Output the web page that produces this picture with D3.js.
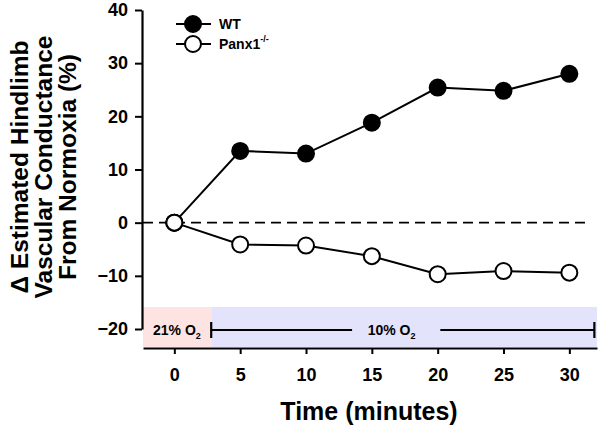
<!DOCTYPE html>
<html><head><meta charset="utf-8">
<script src="https://cdn.jsdelivr.net/npm/d3@7"></script>
<style>body{margin:0;background:#fff}svg{display:block}text{font-family:Arial,"Liberation Sans",sans-serif;font-weight:bold}</style>
</head><body><svg id="c" width="600" height="427"></svg>
<script>
const times = [0, 5, 10, 15, 20, 25, 30];
const wt = [0, 13.5, 13.0, 18.8, 25.4, 24.8, 28.0];
const panx = [0, -4.1, -4.3, -6.3, -9.7, -9.1, -9.4];
const xTicks = [0, 5, 10, 15, 20, 25, 30];
const yTicks = [-20, -10, 0, 10, 20, 30, 40];
const seriesNames = ["WT", "Panx1"];

const svg = d3.select("#c");
const x = d3.scaleLinear().domain([-2.38, 32.1]).range([143, 597]);
const y = d3.scaleLinear().domain([-20, 40]).range([329, 10]);

// bands
const bandTop = 307, bandBot = 347;
svg.append("rect").attr("x", x(-2.38)).attr("y", bandTop).attr("width", x(2.85) - x(-2.38)).attr("height", bandBot - bandTop).attr("fill", "#fde3e1");
svg.append("rect").attr("x", x(2.85)).attr("y", bandTop).attr("width", x(32.1) - x(2.85)).attr("height", bandBot - bandTop).attr("fill", "#e3e3fb");

// band labels
const by = 330;
const t1 = svg.append("text").attr("x", x(0.2)).attr("y", by + 5).attr("text-anchor", "middle").attr("font-size", 14);
t1.append("tspan").text("21% O");
t1.append("tspan").attr("font-size", 9).attr("dy", 4).text("2");
const t2 = svg.append("text").attr("x", x(16.5)).attr("y", by + 5).attr("text-anchor", "middle").attr("font-size", 14);
t2.append("tspan").text("10% O");
t2.append("tspan").attr("font-size", 9).attr("dy", 4).text("2");
const bl = svg.append("g").attr("stroke", "#000").attr("stroke-width", 2.2);
bl.append("line").attr("x1", x(2.8)).attr("x2", x(13.5)).attr("y1", by).attr("y2", by);
bl.append("line").attr("x1", x(20.2)).attr("x2", x(31.9)).attr("y1", by).attr("y2", by);
bl.append("line").attr("x1", x(2.8)).attr("x2", x(2.8)).attr("y1", by - 8).attr("y2", by + 8);
bl.append("line").attr("x1", x(31.9)).attr("x2", x(31.9)).attr("y1", by - 8).attr("y2", by + 8);

// y axis
const ya = svg.append("g").attr("transform", "translate(142,0)")
  .call(d3.axisLeft(y).tickValues(yTicks).tickSize(7).tickSizeOuter(0).tickPadding(7));
ya.select(".domain").attr("stroke-width", 2.2);
ya.selectAll(".tick line").attr("stroke-width", 2);
ya.selectAll("text").attr("font-size", 18).attr("fill", "#000");

// x axis
const xa = svg.append("g").attr("transform", "translate(0,348)")
  .call(d3.axisBottom(x).tickValues(xTicks).tickSize(6).tickSizeOuter(0).tickPadding(14));
xa.select(".domain").attr("stroke-width", 2.2);
xa.selectAll(".tick line").attr("stroke-width", 2);
xa.selectAll("text").attr("font-size", 18).attr("fill", "#000");

svg.append("text").attr("x", 369).attr("y", 420).attr("text-anchor", "middle").attr("font-size", 25).text("Time (minutes)");

// y title
const yt = svg.append("text").attr("transform", "translate(0,167) rotate(-90)").attr("text-anchor", "middle").attr("font-size", 24.5);
["\u0394 Estimated Hindlimb", "Vascular Conductance", "From Normoxia (%)"].forEach((s, i) => {
  yt.append("tspan").attr("x", 0).attr("y", 28 + i * 24).text(s);
});

// zero line
svg.append("line").attr("x1", 143).attr("x2", x(31.6)).attr("y1", y(0)).attr("y2", y(0))
  .attr("stroke", "#000").attr("stroke-width", 1.6).attr("stroke-dasharray", "10,6");

const line = d3.line().x((d, i) => x(times[i])).y(d => y(d));
function drawSeries(vals, fill) {
  svg.append("path").datum(vals).attr("d", line).attr("fill", "none").attr("stroke", "#000").attr("stroke-width", 2);
  svg.selectAll(null).data(vals).enter().append("circle")
    .attr("cx", (d, i) => x(times[i])).attr("cy", d => y(d)).attr("r", 8)
    .attr("fill", (d, i) => (i === 0 ? "#fff" : fill)).attr("stroke", "#000").attr("stroke-width", 2);
}
drawSeries(wt, "#000");
drawSeries(panx, "#fff");
// redraw origin point open
svg.append("circle").attr("cx", x(0)).attr("cy", y(0)).attr("r", 8).attr("fill", "#fff").attr("stroke", "#000").attr("stroke-width", 2);

// legend
const lg = svg.append("g");
[{n: seriesNames[0], f: "#000", yy: 24}, {n: seriesNames[1], f: "#fff", yy: 44}].forEach((d, i) => {
  lg.append("line").attr("x1", 176).attr("x2", 211).attr("y1", d.yy).attr("y2", d.yy).attr("stroke", "#000").attr("stroke-width", 2);
  lg.append("circle").attr("cx", 193).attr("cy", d.yy).attr("r", 8).attr("fill", d.f).attr("stroke", "#000").attr("stroke-width", 2);
  const t = lg.append("text").attr("x", 219).attr("y", d.yy + 5).attr("font-size", 14).text(d.n);
  if (i === 1) t.append("tspan").attr("font-size", 9).attr("dy", -7).text("-/-");
});
</script></body></html>
